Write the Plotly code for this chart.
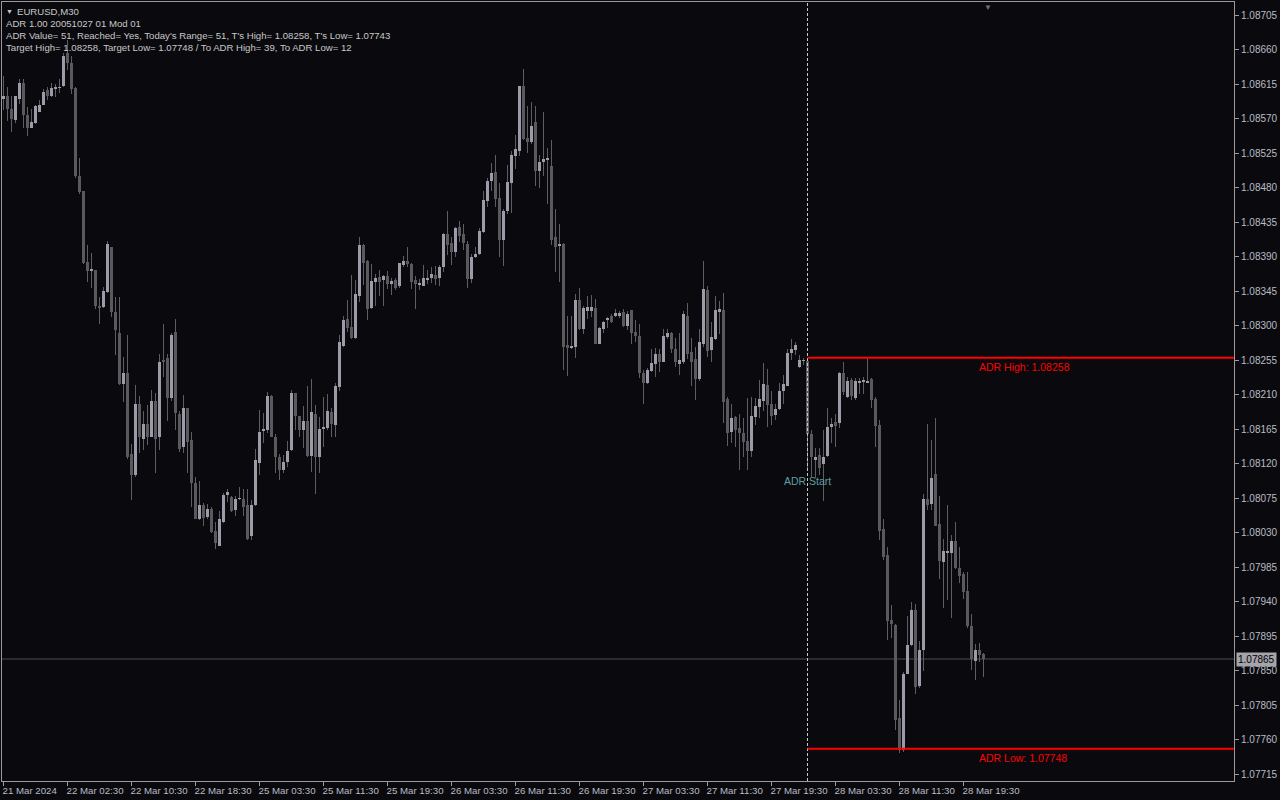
import plotly.graph_objects as go

# ---------------- data (EURUSD M30) ----------------
opens = [1.08595,1.08600,1.08582,1.08568,1.08595,1.08616,1.08574,1.08558,1.08564,1.08579,
1.08588,1.08607,1.08600,1.08609,1.08610,1.08613,1.08655,1.08642,1.08610,1.08495,
1.08475,1.08383,1.08372,1.08372,1.08326,1.08324,1.08344,1.08402,1.08318,1.08290,
1.08224,1.08238,1.08132,1.08105,1.08197,1.08152,1.08171,1.08155,1.08202,1.08155,
1.08254,1.08257,1.08206,1.08291,1.08184,1.08141,1.08192,1.08151,1.08095,1.08047,
1.08066,1.08050,1.08061,1.08032,1.08013,1.08044,1.08079,1.08076,1.08060,1.08074,
1.08074,1.08066,1.08025,1.08066,1.08121,1.08162,1.08164,1.08208,1.08155,1.08128,
1.08112,1.08122,1.08138,1.08212,1.08182,1.08164,1.08176,1.08130,1.08185,1.08128,
1.08165,1.08166,1.08187,1.08170,1.08220,1.08273,1.08309,1.08298,1.08284,1.08339,
1.08405,1.08384,1.08323,1.08357,1.08363,1.08359,1.08364,1.08354,1.08359,1.08351,
1.08379,1.08384,1.08380,1.08359,1.08354,1.08352,1.08359,1.08362,1.08366,1.08362,
1.08376,1.08419,1.08407,1.08396,1.08428,1.08419,1.08406,1.08361,1.08389,1.08393,
1.08422,1.08462,1.08489,1.08500,1.08466,1.08412,1.08449,1.08486,1.08521,1.08528,
1.08612,1.08544,1.08539,1.08566,1.08502,1.08513,1.08516,1.08508,1.08415,1.08404,
1.08406,1.08274,1.08271,1.08272,1.08333,1.08295,1.08319,1.08319,1.08323,1.08276,
1.08296,1.08307,1.08313,1.08313,1.08313,1.08317,1.08300,1.08320,1.08292,1.08286,
1.08238,1.08225,1.08241,1.08250,1.08263,1.08253,1.08285,1.08290,1.08270,1.08250,
1.08252,1.08313,1.08266,1.08256,1.08230,1.08276,1.08346,1.08268,1.08283,1.08317,
1.08320,1.08204,1.08161,1.08181,1.08166,1.08160,1.08150,1.08136,1.08181,1.08194,
1.08201,1.08222,1.08198,1.08183,1.08191,1.08214,1.08221,1.08264,1.08268,1.08246,
1.08254,1.08254,1.08159,1.08125,1.08131,1.08119,1.08130,1.08167,1.08174,1.08173,
1.08238,1.08207,1.08229,1.08206,1.08226,1.08226,1.08226,1.08230,1.08204,1.08170,
1.08034,1.08001,1.07916,1.07909,1.07788,1.07746,1.07846,1.07883,1.07929,1.07830,
1.07877,1.08074,1.08067,1.08106,1.08041,1.07992,1.08004,1.08003,1.08019,1.07984,
1.07976,1.07954,1.07908,1.07863,1.07877,1.07872]
highs = [1.08625,1.08611,1.08600,1.08600,1.08622,1.08622,1.08585,1.08583,1.08587,1.08594,
1.08608,1.08611,1.08616,1.08615,1.08621,1.08655,1.08672,1.08652,1.08611,1.08518,
1.08476,1.08405,1.08394,1.08372,1.08337,1.08350,1.08410,1.08403,1.08337,1.08337,
1.08259,1.08287,1.08145,1.08223,1.08208,1.08189,1.08196,1.08216,1.08212,1.08263,
1.08302,1.08263,1.08290,1.08308,1.08189,1.08209,1.08193,1.08161,1.08102,1.08097,
1.08068,1.08067,1.08063,1.08044,1.08058,1.08082,1.08087,1.08077,1.08077,1.08090,
1.08087,1.08087,1.08072,1.08139,1.08190,1.08186,1.08213,1.08210,1.08159,1.08132,
1.08131,1.08149,1.08216,1.08212,1.08182,1.08195,1.08221,1.08230,1.08196,1.08181,
1.08207,1.08211,1.08193,1.08225,1.08288,1.08312,1.08333,1.08366,1.08359,1.08416,
1.08406,1.08386,1.08380,1.08367,1.08372,1.08366,1.08371,1.08362,1.08362,1.08382,
1.08391,1.08402,1.08381,1.08364,1.08361,1.08379,1.08372,1.08376,1.08377,1.08379,
1.08421,1.08449,1.08415,1.08428,1.08436,1.08433,1.08410,1.08393,1.08402,1.08427,
1.08475,1.08493,1.08512,1.08522,1.08486,1.08452,1.08509,1.08528,1.08549,1.08613,
1.08635,1.08586,1.08591,1.08586,1.08522,1.08579,1.08531,1.08542,1.08452,1.08433,
1.08408,1.08313,1.08313,1.08341,1.08349,1.08325,1.08339,1.08340,1.08334,1.08298,
1.08306,1.08311,1.08315,1.08322,1.08319,1.08322,1.08319,1.08320,1.08307,1.08302,
1.08242,1.08245,1.08270,1.08271,1.08269,1.08295,1.08295,1.08292,1.08284,1.08290,
1.08319,1.08329,1.08284,1.08272,1.08295,1.08384,1.08351,1.08305,1.08339,1.08332,
1.08342,1.08207,1.08197,1.08182,1.08184,1.08179,1.08205,1.08207,1.08205,1.08229,
1.08251,1.08243,1.08214,1.08198,1.08225,1.08236,1.08270,1.08282,1.08278,1.08261,
1.08258,1.08257,1.08164,1.08140,1.08140,1.08164,1.08192,1.08180,1.08185,1.08240,
1.08253,1.08233,1.08232,1.08231,1.08231,1.08233,1.08258,1.08231,1.08207,1.08177,
1.08047,1.08011,1.07935,1.07911,1.07812,1.07848,1.07921,1.07940,1.07937,1.07888,
1.08080,1.08172,1.08151,1.08179,1.08078,1.08022,1.08066,1.08027,1.08044,1.08011,
1.07978,1.07978,1.07924,1.07885,1.07886,1.07873]
lows = [1.08581,1.08567,1.08552,1.08564,1.08589,1.08558,1.08547,1.08558,1.08563,1.08579,
1.08587,1.08594,1.08598,1.08598,1.08603,1.08611,1.08633,1.08602,1.08492,1.08471,
1.08380,1.08357,1.08349,1.08322,1.08302,1.08323,1.08343,1.08311,1.08261,1.08223,
1.08200,1.08126,1.08073,1.08103,1.08134,1.08138,1.08144,1.08155,1.08107,1.08137,
1.08233,1.08176,1.08202,1.08164,1.08135,1.08134,1.08107,1.08063,1.08047,1.08046,
1.08039,1.08048,1.08029,1.08009,1.08012,1.08042,1.08070,1.08057,1.08052,1.08072,
1.08052,1.08020,1.08020,1.08064,1.08105,1.08147,1.08160,1.08154,1.08108,1.08098,
1.08107,1.08116,1.08136,1.08164,1.08155,1.08140,1.08129,1.08109,1.08080,1.08107,
1.08141,1.08164,1.08155,1.08155,1.08215,1.08272,1.08291,1.08283,1.08283,1.08331,
1.08353,1.08307,1.08322,1.08325,1.08339,1.08325,1.08348,1.08340,1.08346,1.08349,
1.08376,1.08376,1.08348,1.08322,1.08346,1.08351,1.08354,1.08355,1.08353,1.08352,
1.08370,1.08392,1.08379,1.08390,1.08409,1.08399,1.08349,1.08356,1.08388,1.08392,
1.08421,1.08455,1.08476,1.08454,1.08389,1.08378,1.08445,1.08447,1.08504,1.08521,
1.08542,1.08525,1.08537,1.08482,1.08479,1.08495,1.08459,1.08405,1.08370,1.08357,
1.08242,1.08234,1.08270,1.08258,1.08294,1.08289,1.08309,1.08311,1.08276,1.08276,
1.08290,1.08297,1.08303,1.08311,1.08310,1.08298,1.08294,1.08276,1.08279,1.08231,
1.08198,1.08224,1.08240,1.08233,1.08240,1.08252,1.08283,1.08264,1.08246,1.08236,
1.08250,1.08256,1.08221,1.08203,1.08228,1.08272,1.08259,1.08253,1.08281,1.08289,
1.08173,1.08143,1.08147,1.08142,1.08112,1.08129,1.08111,1.08129,1.08170,1.08180,
1.08188,1.08167,1.08170,1.08177,1.08190,1.08198,1.08221,1.08255,1.08261,1.08245,
1.08248,1.08114,1.08103,1.08101,1.08105,1.08071,1.08129,1.08147,1.08142,1.08166,
1.08210,1.08205,1.08203,1.08203,1.08211,1.08211,1.08225,1.08193,1.08142,1.08020,
1.07994,1.07890,1.07892,1.07772,1.07743,1.07744,1.07845,1.07882,1.07819,1.07827,
1.07850,1.08059,1.08059,1.08038,1.07970,1.07931,1.07942,1.07919,1.07983,1.07964,
1.07943,1.07905,1.07851,1.07838,1.07861,1.07842]
closes = [1.08600,1.08582,1.08569,1.08599,1.08616,1.08574,1.08558,1.08565,1.08586,1.08588,
1.08605,1.08600,1.08610,1.08609,1.08610,1.08651,1.08642,1.08608,1.08495,1.08474,
1.08382,1.08371,1.08372,1.08325,1.08323,1.08345,1.08406,1.08318,1.08294,1.08224,
1.08238,1.08129,1.08105,1.08197,1.08154,1.08171,1.08155,1.08202,1.08152,1.08252,
1.08253,1.08205,1.08287,1.08186,1.08139,1.08192,1.08148,1.08095,1.08048,1.08066,
1.08049,1.08061,1.08031,1.08016,1.08048,1.08079,1.08083,1.08058,1.08074,1.08074,
1.08063,1.08022,1.08066,1.08125,1.08161,1.08165,1.08208,1.08155,1.08128,1.08112,
1.08122,1.08136,1.08212,1.08182,1.08164,1.08176,1.08130,1.08187,1.08129,1.08165,
1.08168,1.08189,1.08171,1.08221,1.08278,1.08307,1.08297,1.08284,1.08341,1.08405,
1.08382,1.08322,1.08358,1.08362,1.08357,1.08364,1.08354,1.08358,1.08349,1.08381,
1.08384,1.08380,1.08357,1.08354,1.08355,1.08362,1.08362,1.08367,1.08361,1.08376,
1.08419,1.08405,1.08396,1.08427,1.08417,1.08407,1.08361,1.08390,1.08393,1.08423,
1.08464,1.08489,1.08499,1.08465,1.08412,1.08449,1.08487,1.08523,1.08530,1.08612,
1.08543,1.08539,1.08560,1.08502,1.08513,1.08517,1.08518,1.08412,1.08403,1.08406,
1.08272,1.08271,1.08273,1.08333,1.08295,1.08323,1.08324,1.08324,1.08276,1.08297,
1.08304,1.08310,1.08305,1.08316,1.08316,1.08299,1.08315,1.08290,1.08286,1.08238,
1.08225,1.08242,1.08251,1.08263,1.08253,1.08286,1.08290,1.08270,1.08253,1.08255,
1.08315,1.08263,1.08253,1.08230,1.08278,1.08348,1.08267,1.08285,1.08320,1.08321,
1.08200,1.08160,1.08180,1.08164,1.08160,1.08148,1.08136,1.08182,1.08195,1.08204,
1.08224,1.08196,1.08182,1.08191,1.08214,1.08224,1.08264,1.08269,1.08274,1.08255,
1.08254,1.08158,1.08128,1.08128,1.08114,1.08128,1.08167,1.08172,1.08169,1.08238,
1.08213,1.08227,1.08208,1.08228,1.08228,1.08229,1.08228,1.08203,1.08169,1.08032,
1.07998,1.07914,1.07911,1.07786,1.07747,1.07846,1.07883,1.07929,1.07829,1.07877,
1.08074,1.08066,1.08101,1.08038,1.07993,1.08006,1.08006,1.08019,1.07984,1.07973,
1.07953,1.07908,1.07865,1.07877,1.07870,1.07865]

tick_positions = [0, 16, 32, 48, 64, 80, 96, 112, 128, 144, 160, 176, 192, 208, 224, 240]
tick_labels = ["21 Mar 2024", "22 Mar 02:30", "22 Mar 10:30", "22 Mar 18:30", "25 Mar 03:30",
               "25 Mar 11:30", "25 Mar 19:30", "26 Mar 03:30", "26 Mar 11:30", "26 Mar 19:30",
               "27 Mar 03:30", "27 Mar 11:30", "27 Mar 19:30", "28 Mar 03:30", "28 Mar 11:30",
               "28 Mar 19:30"]
price_ticks = [round(1.07715 + 0.00045 * k, 5) for k in range(23)]

adr_start_index = 201
adr_high = 1.08258
adr_low = 1.07748
last_price = 1.07865
info_lines = [
    "ADR 1.00 20051027 01 Mod 01",
    "ADR Value= 51, Reached= Yes, Today's Range= 51, T's High= 1.08258, T's Low= 1.07743",
    "Target High= 1.08258, Target Low= 1.07748 / To ADR High= 39, To ADR Low= 12",
]

# ---------------- styling ----------------
BG = "#0a0a0e"
BULL = "#9c9ca8"
BEAR = "#5a5a5e"
WICK = "#5e5e62"
FRAME = "#9a9a9a"
TXT = "#b8bcc4"
FONT = "Liberation Sans"

n = len(closes)
idx = list(range(n))
bull = [c >= o for o, c in zip(opens, closes)]
body_base = [min(o, c) for o, c in zip(opens, closes)]
body_len = [max(abs(c - o), 0.00001) for o, c in zip(opens, closes)]
wick_len = [h - l for h, l in zip(highs, lows)]

fig = go.Figure()
fig.add_trace(go.Bar(x=idx, y=wick_len, base=lows, width=0.25,
                     marker=dict(color=WICK, line=dict(width=0)), hoverinfo="skip"))
bi = [i for i in idx if bull[i]]
di = [i for i in idx if not bull[i]]
fig.add_trace(go.Bar(x=bi, y=[body_len[i] for i in bi], base=[body_base[i] for i in bi], width=0.75,
                     marker=dict(color=BULL, line=dict(width=0)), hoverinfo="skip"))
fig.add_trace(go.Bar(x=di, y=[body_len[i] for i in di], base=[body_base[i] for i in di], width=0.75,
                     marker=dict(color=BEAR, line=dict(width=0)), hoverinfo="skip"))

x_lo, x_hi = -0.375, 307.625
y_lo, y_hi = 1.0770591, 1.0872196

shapes = [
    dict(type="line", xref="paper", yref="y", x0=0, x1=1, y0=last_price, y1=last_price,
         line=dict(color="#4e4e52", width=1), layer="below"),
    dict(type="line", xref="x", yref="paper", x0=adr_start_index, x1=adr_start_index, y0=0, y1=1,
         line=dict(color="#c8c8c8", width=1, dash="3px,2px")),
    dict(type="line", xref="x", yref="y", x0=adr_start_index, x1=x_hi, y0=adr_high, y1=adr_high,
         line=dict(color="#ff0000", width=2)),
    dict(type="line", xref="x", yref="y", x0=adr_start_index, x1=x_hi, y0=adr_low, y1=adr_low,
         line=dict(color="#ff0000", width=2)),
]

TOPFONT = dict(family=FONT, size=9.6, color="#c8c8c8")
ann = []
ann.append(dict(xref="paper", yref="paper", x=0.0016, y=0.9884, text="▼", showarrow=False,
                xanchor="left", yanchor="middle", font=dict(family=FONT, size=7, color="#c8c8c8")))
ann.append(dict(xref="paper", yref="paper", x=0.0105, y=0.9884, text="EURUSD,M30", showarrow=False,
                xanchor="left", yanchor="middle", font=TOPFONT))
for k, line in enumerate(info_lines):
    ann.append(dict(xref="paper", yref="paper", x=0.0016, y=0.9884 - (k + 1) * 0.0157, text=line,
                    showarrow=False, xanchor="left", yanchor="middle", font=TOPFONT))
ann.append(dict(xref="x", yref="y", x=244, y=adr_high, text="ADR High: " + f"{adr_high:.5f}",
                showarrow=False, xanchor="left", yanchor="top", yshift=-1, xshift=-3,
                font=dict(family=FONT, size=10.5, color="#ff0000")))
ann.append(dict(xref="x", yref="y", x=244, y=adr_low, text="ADR Low: " + f"{adr_low:.5f}",
                showarrow=False, xanchor="left", yanchor="top", yshift=-1, xshift=-3,
                font=dict(family=FONT, size=10.5, color="#ff0000")))
ann.append(dict(xref="x", yref="y", x=adr_start_index, y=1.08097, text="ADR Start",
                showarrow=False, xanchor="center", yanchor="middle",
                font=dict(family=FONT, size=10.5, color="#5f9ea0")))
ann.append(dict(xref="paper", yref="y", x=1, y=last_price, text=f"{last_price:.5f}",
                showarrow=False, xanchor="left", yanchor="middle", xshift=2,
                bgcolor="#a4a4aa", borderpad=1,
                font=dict(family=FONT, size=10, color="#000000")))
ann.append(dict(xref="x", yref="paper", x=246, y=1, text="▼", showarrow=False,
                xanchor="center", yanchor="top", yshift=1,
                font=dict(family=FONT, size=8, color="#707070")))

fig.update_layout(
    width=1280, height=800,
    margin=dict(l=2, r=46, t=2, b=19, pad=0),
    paper_bgcolor=BG, plot_bgcolor=BG,
    barmode="overlay", showlegend=False, bargap=0,
    shapes=shapes, annotations=ann,
    font=dict(family=FONT, size=10, color=TXT),
    xaxis=dict(range=[x_lo, x_hi], tickmode="array", tickvals=tick_positions, ticktext=tick_labels,
               ticks="outside", ticklen=4, tickcolor=FRAME, ticklabelposition="outside right",
               ticklabelshift=-2, tickangle=0, automargin=False,
               showgrid=False, zeroline=False, showline=True, linecolor=FRAME, linewidth=1,
               mirror=True, tickfont=dict(family=FONT, size=9.7, color=TXT), fixedrange=True),
    yaxis=dict(range=[y_lo, y_hi], side="right", tickmode="array", tickvals=price_ticks,
               ticktext=[f"{p:.5f}" for p in price_ticks], automargin=False,
               ticks="outside", ticklen=4, tickcolor=FRAME,
               showgrid=False, zeroline=False, showline=True, linecolor=FRAME, linewidth=1,
               mirror=True, tickfont=dict(family=FONT, size=10, color=TXT), fixedrange=True),
)

fig.write_html("out.html", config={"displayModeBar": False},
               post_script="document.body.style.margin='0';document.body.style.overflow='hidden';")
